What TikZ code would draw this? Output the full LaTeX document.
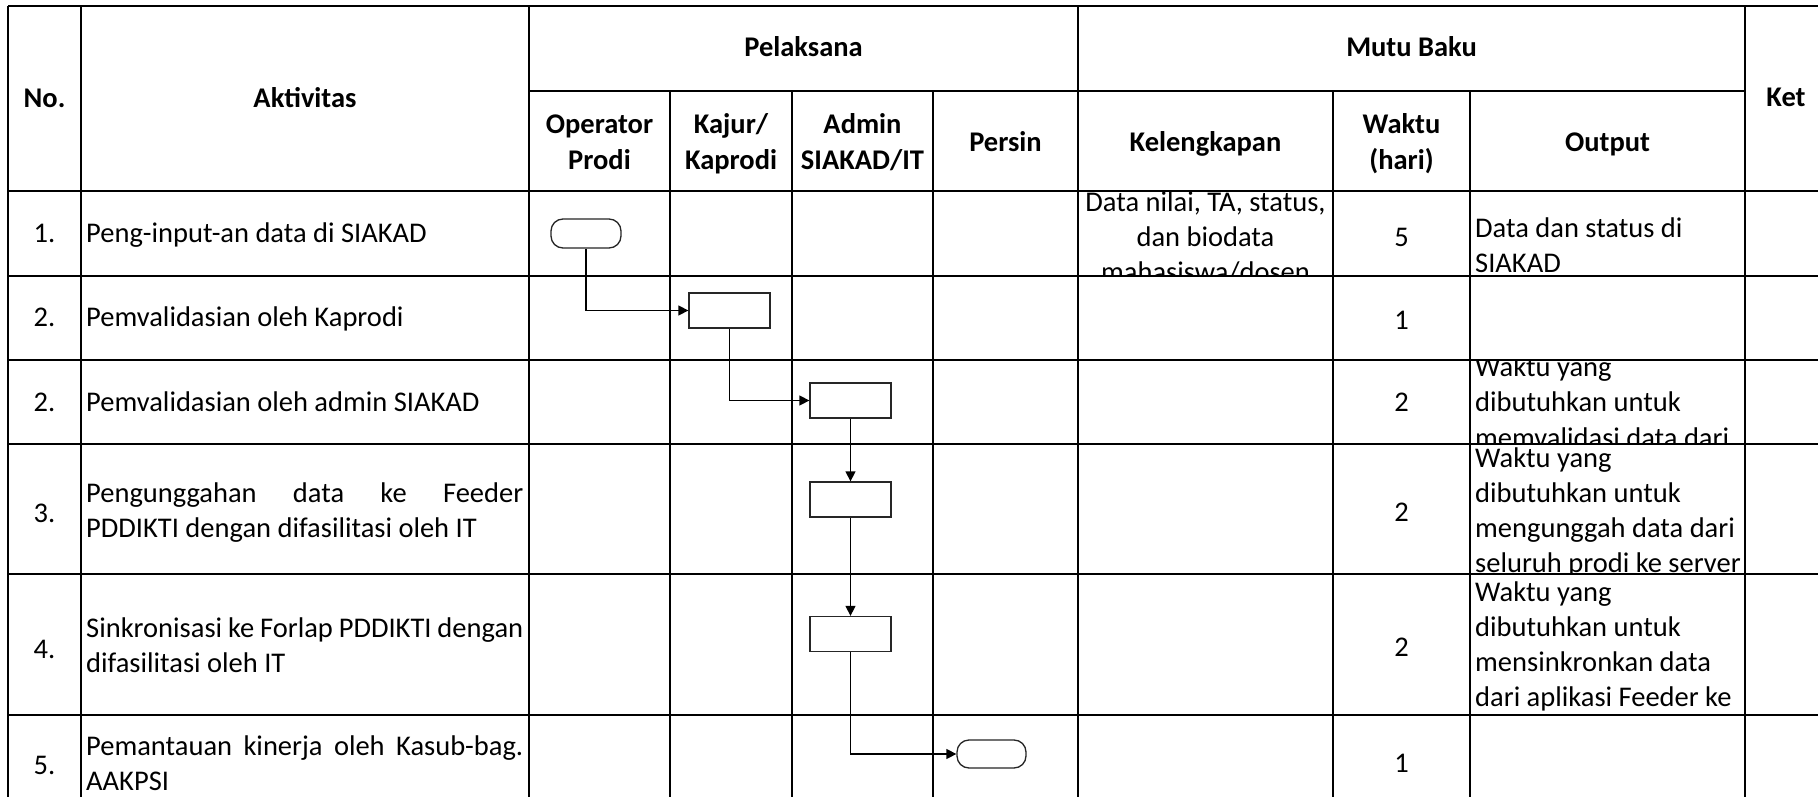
\documentclass[tikz,border=0pt]{standalone}
\usepackage{fontspec}
\setmainfont{Carlito}
\usetikzlibrary{arrows.meta}
\begin{document}
\begin{tikzpicture}[x=1pt,y=-1pt,
  grid/.style={line width=2pt,black},
  txt/.style={anchor=base,inner sep=0pt,font=\fontsize{28.5}{35}\selectfont},
  ltxt/.style={txt,anchor=base west},
  hdr/.style={txt,font=\fontsize{28.5}{35}\selectfont\bfseries},
  procbox/.style={draw=black!85,line width=1.3pt,minimum width=81pt,minimum height=35pt,inner sep=0pt},
  termbox/.style={draw=black!85,line width=1.3pt,rounded corners=12pt,minimum width=70pt,minimum height=29pt,inner sep=0pt},
  flow/.style={line width=1.4pt,-{Triangle[length=10pt,width=10pt]}}]
\useasboundingbox (0,0) rectangle (1818,797);
\clip (0,0) rectangle (1818,797);
\fill[white] (0,0) rectangle (1818,797);

% ---------- header texts ----------
\node[hdr] (hNo) at (44.5,108) {No.};
\node[hdr] (hAkt) at (305,108) {Aktivitas};
\node[hdr] (hPel) at (803.5,57) {Pelaksana};
\node[hdr] (hMutu) at (1411.5,57) {Mutu Baku};
\node[hdr] (hKet) at (1786,107) {Ket};
\node[hdr] (hOpA) at (599.5,134) {Operator};
\node[hdr] (hOpB) at (599.5,169) {Prodi};
\node[hdr] (hKaA) at (731,134) {Kajur/};
\node[hdr] (hKaB) at (731,169) {Kaprodi};
\node[hdr] (hAdA) at (862.5,134) {Admin};
\node[hdr] (hAdB) at (862.5,169) {SIAKAD/IT};
\node[hdr] (hPer) at (1005.5,152) {Persin};
\node[hdr] (hKel) at (1205.5,152) {Kelengkapan};
\node[hdr] (hWaA) at (1401.5,134) {Waktu};
\node[hdr] (hWaB) at (1401.5,169) {(hari)};
\node[hdr] (hOut) at (1607.5,152) {Output};

% ---------- No. column ----------
\node[txt] (n1) at (44.5,242) {1.};
\node[txt] (n2) at (44.5,326) {2.};
\node[txt] (n3) at (44.5,411) {2.};
\node[txt] (n4) at (44.5,522) {3.};
\node[txt] (n5) at (44.5,658) {4.};
\node[txt] (n6) at (44.5,774) {5.};

% ---------- Aktivitas column ----------
\node[ltxt] (a1) at (86,242) {Peng-input-an data di SIAKAD};
\node[ltxt] (a2) at (86,326) {Pemvalidasian oleh Kaprodi};
\node[ltxt] (a3) at (86,411) {Pemvalidasian oleh admin SIAKAD};
\node[ltxt] (a4a) at (86,502) {\makebox[437pt][s]{Pengunggahan data ke Feeder}};
\node[ltxt] (a4b) at (86,537) {PDDIKTI dengan difasilitasi oleh IT};
\node[ltxt] (a5a) at (86,637) {\makebox[437pt][s]{Sinkronisasi ke Forlap PDDIKTI dengan}};
\node[ltxt] (a5b) at (86,672) {difasilitasi oleh IT};
\node[ltxt] (a6a) at (86,755) {\makebox[437pt][s]{Pemantauan kinerja oleh Kasub-bag.}};
\node[ltxt] (a6b) at (86,790) {AAKPSI};

% ---------- Kelengkapan row 1 (clipped to its cell) ----------
\begin{scope}
  \clip (1078,191) rectangle (1333,276);
  \node[txt] (k1a) at (1205.5,211) {Data nilai, TA, status,};
  \node[txt] (k1b) at (1205.5,246) {dan biodata};
  \node[txt] (k1c) at (1205.5,281) {mahasiswa/dosen};
\end{scope}

% ---------- Waktu column ----------
\node[txt] (w1) at (1401.5,246) {5};
\node[txt] (w2) at (1401.5,329) {1};
\node[txt] (w3) at (1401.5,411) {2};
\node[txt] (w4) at (1401.5,521) {2};
\node[txt] (w5) at (1401.5,656) {2};
\node[txt] (w6) at (1401.5,772) {1};

% ---------- Output column ----------
\node[ltxt] (o1a) at (1475,237) {Data dan status di};
\node[ltxt] (o1b) at (1475,272) {SIAKAD};
\begin{scope}
  \clip (1470,360) rectangle (1745,444);
  \node[ltxt] (o3a) at (1475,376) {Waktu yang};
  \node[ltxt] (o3b) at (1475,411) {dibutuhkan untuk};
  \node[ltxt] (o3c) at (1475,447) {memvalidasi data dari};
\end{scope}
\begin{scope}
  \clip (1470,444) rectangle (1745,574);
  \node[ltxt] (o4a) at (1475,467) {Waktu yang};
  \node[ltxt] (o4b) at (1475,502) {dibutuhkan untuk};
  \node[ltxt] (o4c) at (1475,537) {mengunggah data dari};
  \node[ltxt] (o4d) at (1475,572) {seluruh prodi ke server};
\end{scope}
\begin{scope}
  \clip (1470,574) rectangle (1745,715);
  \node[ltxt] (o5a) at (1475,601) {Waktu yang};
  \node[ltxt] (o5b) at (1475,636) {dibutuhkan untuk};
  \node[ltxt] (o5c) at (1475,671) {mensinkronkan data};
  \node[ltxt] (o5d) at (1475,706) {dari aplikasi Feeder ke};
\end{scope}

% ---------- grid ----------
\draw[grid] (8,6) -- (1830,6);
\draw[grid] (529,91) -- (1745,91);
\foreach \yy in {191,276,360,444,574,715} \draw[grid] (8,\yy) -- (1830,\yy);
\foreach \xx in {8,81,529,1078,1745} \draw[grid] (\xx,6) -- (\xx,830);
\foreach \xx in {670,792,933,1333,1470} \draw[grid] (\xx,91) -- (\xx,830);

% ---------- flowchart ----------
\node[termbox] (t1) at (586,233.5) {};
\node[procbox] (b1) at (729.5,310.5) {};
\node[procbox] (b2) at (850.5,400.5) {};
\node[procbox] (b3) at (850.5,499.5) {};
\node[procbox] (b4) at (850.5,634) {};
\node[termbox,minimum width=69pt,minimum height=28pt] (t2) at (991.5,754) {};

\draw[flow] (t1.south) |- (b1.west);
\draw[flow] (b1.south) |- (b2.west);
\draw[flow] (b2.south) -- (b3.north);
\draw[flow] (b3.south) -- (b4.north);
\draw[flow] (b4.south) |- (t2.west);
\end{tikzpicture}
\end{document}
